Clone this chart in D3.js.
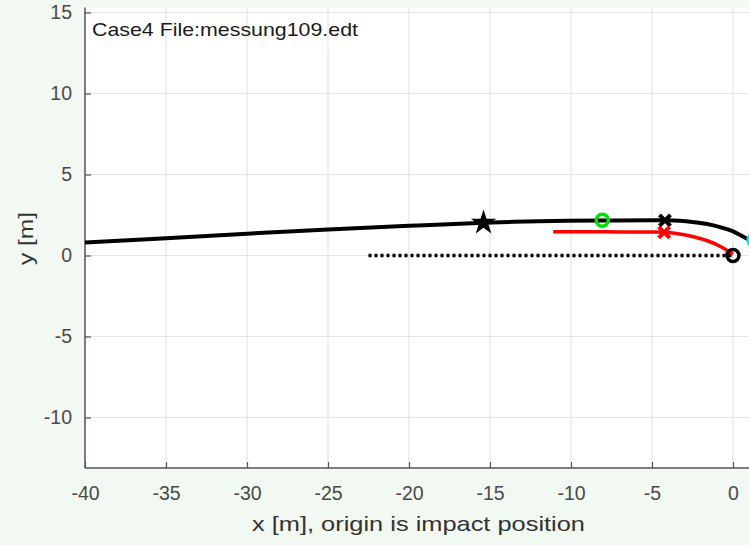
<!DOCTYPE html>
<html>
<head>
<meta charset="utf-8">
<script src="https://cdn.jsdelivr.net/npm/d3@7"></script>
<style>
  html, body { margin: 0; padding: 0; background: #f2f8f2; overflow: hidden; }
  svg { display: block; font-family: "Liberation Sans", Arial, Helvetica, sans-serif; }
</style>
</head>
<body>
<svg id="chart" width="749" height="545"></svg>
<script>
// Vehicle trajectory (x, y in metres, origin at the impact position)
const pathX = [-40, -35, -30, -25, -20, -15.4, -12, -8, -5, -4.2, -3.3, -2.5, -1.6, -0.8, 0, 0.5, 1.0, 1.5];
const pathY = [0.81, 1.06, 1.35, 1.6, 1.83, 2.02, 2.11, 2.16, 2.17, 2.17, 2.14, 2.07, 1.94, 1.75, 1.49, 1.23, 0.96, 0.66];

// Second (red) trajectory ending at the impact point
const redX = [-11.1, -8, -5, -4.25, -3.5, -2.5, -1.5, -0.8, -0.3, 0];
const redY = [1.47, 1.46, 1.45, 1.43, 1.36, 1.17, 0.88, 0.57, 0.28, 0.08];

// Dotted reference line along y = 0
const refX = [-22.5, 0];
const refY = [0, 0];

// Single markers
const starPt = { x: -15.4, y: 2.02 };
const greenPt = { x: -8.07, y: 2.17 };
const blackCrossPt = { x: -4.2, y: 2.17 };
const redCrossPt = { x: -4.25, y: 1.43 };
const originPt = { x: 0, y: 0 };
const cyanPt = { x: 1.3, y: 0.96 };

// Axis ticks and labels
const xTicks = [-40, -35, -30, -25, -20, -15, -10, -5, 0];
const yTicks = [-10, -5, 0, 5, 10, 15];
const titleText = "Case4 File:messung109.edt";
const xLabel = "x [m], origin is impact position";
const yLabel = "y [m]";

const svg = d3.select("#chart");

// Equal-aspect scales (16.2 px per metre on both axes)
const pxPerM = 16.2;
const plotLeft = 85, plotTop = 7.5, plotBottom = 468, plotRight = 800;
const x0 = 733;       // pixel of x = 0
const y0 = 255.5;     // pixel of y = 0
const x = d3.scaleLinear().domain([-40, 0]).range([x0 - 40 * pxPerM, x0]);
const y = d3.scaleLinear().domain([0, 10]).range([y0, y0 - 10 * pxPerM]);

// plot area
svg.append("rect").attr("x", plotLeft).attr("y", plotTop)
  .attr("width", plotRight - plotLeft).attr("height", plotBottom - plotTop)
  .attr("fill", "#ffffff");

svg.append("clipPath").attr("id", "clip")
  .append("rect").attr("x", plotLeft).attr("y", plotTop)
  .attr("width", plotRight - plotLeft).attr("height", plotBottom - plotTop);

// grid
const grid = svg.append("g").attr("stroke", "#e4e4e4").attr("stroke-width", 1.2);
grid.selectAll("line.gx").data(xTicks.slice(1)).join("line")
  .attr("x1", d => x(d)).attr("x2", d => x(d))
  .attr("y1", plotTop).attr("y2", plotBottom);
grid.selectAll("line.gy").data(yTicks).join("line")
  .attr("x1", plotLeft).attr("x2", plotRight)
  .attr("y1", d => y(d)).attr("y2", d => y(d));

// axes (inward ticks, plain hyphen for negatives)
const axisColor = "#555555";
const fmt = d => String(d);
const gx = svg.append("g").attr("transform", `translate(0,${plotBottom})`)
  .call(d3.axisBottom(x).tickValues(xTicks).tickFormat(fmt)
    .tickSizeInner(-6).tickSizeOuter(0).tickPadding(18));
const gy = svg.append("g").attr("transform", `translate(${plotLeft},0)`)
  .call(d3.axisLeft(y).tickValues(yTicks).tickFormat(fmt)
    .tickSizeInner(-6).tickSizeOuter(0).tickPadding(13));
gx.select(".domain").attr("d", `M${plotLeft},0H${plotRight}`);
gy.select(".domain").attr("d", `M0,${plotTop}V${plotBottom}`);
[gx, gy].forEach(g => {
  g.select(".domain").attr("stroke", axisColor).attr("stroke-width", 1.5);
  g.selectAll(".tick line").attr("stroke", axisColor).attr("stroke-width", 1.2);
  g.selectAll(".tick text").attr("fill", "#4a4a4a")
    .attr("font-size", 19.5).attr("font-family", "Liberation Sans, Arial, sans-serif");
});

// data layer
const plot = svg.append("g").attr("clip-path", "url(#clip)");
const line = d3.line().x(d => x(d[0])).y(d => y(d[1])).curve(d3.curveCatmullRom.alpha(0.5));

plot.append("path").datum(refX.map((v, i) => [v, refY[i]]))
  .attr("d", d3.line().x(d => x(d[0])).y(d => y(d[1])))
  .attr("fill", "none").attr("stroke", "#000").attr("stroke-width", 3.5)
  .attr("stroke-dasharray", "3,3");

plot.append("path").datum(redX.map((v, i) => [v, redY[i]]))
  .attr("d", line).attr("fill", "none").attr("stroke", "#ff0000").attr("stroke-width", 3.5);

plot.append("path").datum(pathX.map((v, i) => [v, pathY[i]]))
  .attr("d", line).attr("fill", "none").attr("stroke", "#000").attr("stroke-width", 4);

// markers
plot.append("path")
  .attr("d", d3.symbol(d3.symbolStar, 200)())
  .attr("transform", `translate(${x(starPt.x)},${y(starPt.y)})`)
  .attr("fill", "#000");

function cross(pt, color) {
  const s = 5.5;
  const cx = x(pt.x), cy = y(pt.y);
  plot.append("path")
    .attr("d", `M${cx - s},${cy - s}L${cx + s},${cy + s}M${cx - s},${cy + s}L${cx + s},${cy - s}`)
    .attr("stroke", color).attr("stroke-width", 4).attr("fill", "none");
}
cross(blackCrossPt, "#000");
cross(redCrossPt, "#ff0000");

function ring(pt, color) {
  plot.append("circle").attr("cx", x(pt.x)).attr("cy", y(pt.y)).attr("r", 6)
    .attr("fill", "none").attr("stroke", color).attr("stroke-width", 3.5);
}
ring(greenPt, "#00e000");
ring(originPt, "#000");
ring(cyanPt, "#00e5ee");

// annotation
svg.append("text").attr("x", 92).attr("y", 36)
  .attr("font-size", 19).attr("fill", "#1a1a1a")
  .attr("textLength", 266).attr("lengthAdjust", "spacingAndGlyphs")
  .text(titleText);

// axis labels
svg.append("text").attr("x", 418.5).attr("y", 531)
  .attr("text-anchor", "middle").attr("font-size", 21).attr("fill", "#333")
  .attr("textLength", 333).attr("lengthAdjust", "spacingAndGlyphs")
  .text(xLabel);
svg.append("text")
  .attr("transform", "translate(33,238.5) rotate(-90)")
  .attr("text-anchor", "middle").attr("font-size", 21).attr("fill", "#333")
  .attr("textLength", 53).attr("lengthAdjust", "spacingAndGlyphs")
  .text(yLabel);
</script>
</body>
</html>
